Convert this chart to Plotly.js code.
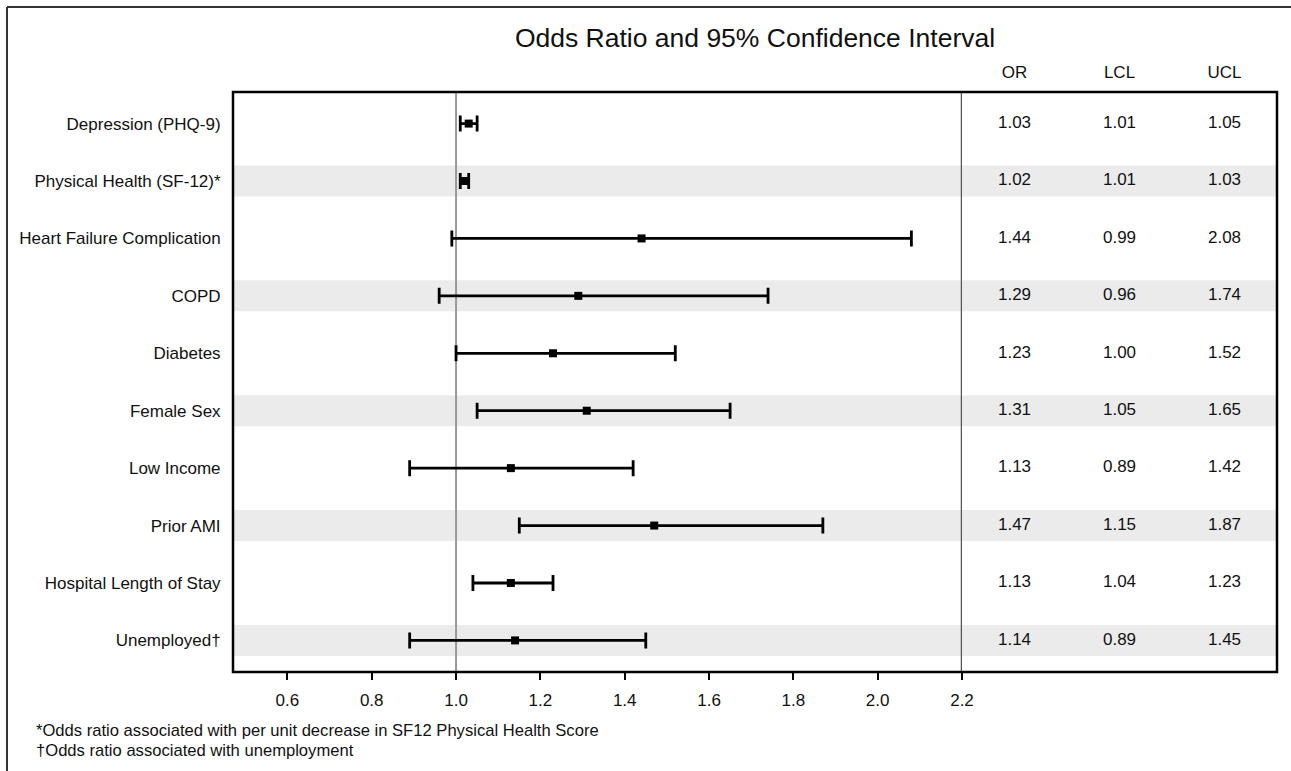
<!DOCTYPE html>
<html><head><meta charset="utf-8">
<script src="https://cdn.plot.ly/plotly-3.0.1.min.js"></script>
<style>html,body{margin:0;padding:0;background:#fff}#plot{width:1291px;height:771px}</style>
</head><body><div id="plot"></div>
<script>
const labels = ["Depression (PHQ-9)","Physical Health (SF-12)*","Heart Failure Complication","COPD","Diabetes","Female Sex","Low Income","Prior AMI","Hospital Length of Stay","Unemployed\u2020"];
const orVals  = [1.03,1.02,1.44,1.29,1.23,1.31,1.13,1.47,1.13,1.14];
const lclVals = [1.01,1.01,0.99,0.96,1.00,1.05,0.89,1.15,1.04,0.89];
const uclVals = [1.05,1.03,2.08,1.74,1.52,1.65,1.42,1.87,1.23,1.45];
const tableCols = ["OR","LCL","UCL"];
const xTicks = [0.6,0.8,1.0,1.2,1.4,1.6,1.8,2.0,2.2];
const footnotes = ["*Odds ratio associated with per unit decrease in SF12 Physical Health Score","\u2020Odds ratio associated with unemployment"];

const FONT = "Liberation Sans, Arial, sans-serif";
const FS = 17;
const split = (962-233)/1044;

const traces = [{
  type:'scatter', mode:'markers', x: orVals, y: labels, xaxis:'x', yaxis:'y',
  marker:{symbol:'square', size:8, color:'#000'},
  error_x:{type:'data', symmetric:false,
    array: uclVals.map((u,i)=>u-orVals[i]),
    arrayminus: lclVals.map((l,i)=>orVals[i]-l),
    color:'#000', thickness:2.8, width:8},
  hoverinfo:'skip', showlegend:false
}];
const colData = [orVals, lclVals, uclVals];
tableCols.forEach((c,ci)=>{
  traces.push({type:'scatter', mode:'text', xaxis:'x2', yaxis:'y',
    x: labels.map(()=>c), y: labels,
    text: colData[ci].map(v=>v.toFixed(2)),
    textposition:'middle center', textfont:{family:FONT, size:FS, color:'#111'},
    hoverinfo:'skip', showlegend:false});
});

const shapes = [];
labels.forEach((l,i)=>{
  if(i%2===1){
    shapes.push({type:'rect', xref:'paper', yref:'y', x0:0, x1:1, y0:i-0.27, y1:i+0.27,
      fillcolor:'#ebebeb', line:{width:0}, layer:'below'});
  }
});
shapes.push({type:'line', xref:'x', yref:'paper', x0:1.0, x1:1.0, y0:0, y1:1, line:{color:'#999', width:2}, layer:'below'});
shapes.push({type:'line', xref:'x', yref:'paper', x0:2.2, x1:2.2, y0:0, y1:1, line:{color:'#555', width:2.5}});
shapes.push({type:'rect', xref:'paper', yref:'paper', x0:0, x1:1, y0:0, y1:1, line:{color:'#000', width:2.5}});
// outer frame (top and left edges)
const fx = (7-233)/1044, fy = (672-7)/580;
shapes.push({type:'line', xref:'paper', yref:'paper', x0:fx, x1:1.3, y0:fy, y1:fy, line:{color:'#333', width:2}});
shapes.push({type:'line', xref:'paper', yref:'paper', x0:fx, x1:fx, y0:fy, y1:-0.3, line:{color:'#333', width:2}});

const annotations = footnotes.map((t,i)=>({
  xref:'paper', yref:'paper', x:(34-233)/1044, y:(672-(730+i*20))/580,
  xanchor:'left', yanchor:'middle', showarrow:false, text:t,
  font:{family:FONT, size:16.6, color:'#111'}
}));

const layout = {
  width:1291, height:771,
  margin:{l:233, r:14, t:92, b:99, pad:0},
  paper_bgcolor:'#fff', plot_bgcolor:'rgba(0,0,0,0)',
  font:{family:FONT, size:FS, color:'#111'},
  title:{text:'Odds Ratio and 95% Confidence Interval', x:0.5, xref:'paper', xanchor:'center',
    y:1-38/771, yref:'container', yanchor:'middle', font:{family:FONT, size:26.5, color:'#111'}},
  xaxis:{domain:[0, split], range:[0.471, 2.2], tickvals:xTicks, ticktext:xTicks.map(v=>v.toFixed(1)),
    ticks:'outside', ticklen:7, tickwidth:2, tickcolor:'#000', showgrid:false, zeroline:false,
    showline:false, anchor:'y', ticklabelstandoff:6, tickfont:{family:FONT, size:FS, color:'#111'}},
  xaxis2:{domain:[split, 1], type:'category', range:[-0.5, 2.5], side:'top', anchor:'y',
    ticks:'outside', ticklen:6, tickcolor:'rgba(0,0,0,0)', showgrid:false, zeroline:false, showline:false,
    tickfont:{family:FONT, size:FS, color:'#111'}},
  yaxis:{type:'category', categoryorder:'array', categoryarray:labels, range:[9.55, -0.55],
    showgrid:false, zeroline:false, showline:false, ticks:'outside', ticklen:8, tickcolor:'rgba(0,0,0,0)',
    tickfont:{family:FONT, size:FS, color:'#111'}},
  shapes, annotations
};
Plotly.newPlot('plot', traces, layout, {displayModeBar:false, staticPlot:true});
</script></body></html>
